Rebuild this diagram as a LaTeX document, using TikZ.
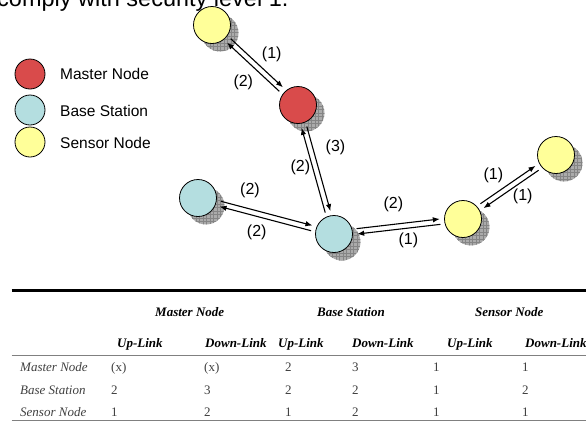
\documentclass[tikz,border=0pt]{standalone}
\usepackage{fontspec}
\setmainfont{Liberation Serif}
\newfontfamily\arialfont{Liberation Sans}
\usetikzlibrary{calc,arrows.meta,patterns.meta}
\definecolor{mred}{HTML}{D94B4B}
\definecolor{mblue}{HTML}{B4DEE0}
\definecolor{myellow}{HTML}{FFFF99}
\definecolor{tabgray}{HTML}{404040}
\definecolor{shadefill}{HTML}{ABABAB}
\definecolor{shadeline}{HTML}{858585}
\pgfdeclarepattern{
  name=shadowgrid,
  parameters={},
  bottom left={\pgfpoint{-0.5pt}{-0.5pt}},
  top right={\pgfpoint{3.5pt}{3.5pt}},
  tile size={\pgfpoint{3.5pt}{3.5pt}},
  tile transformation={},
  code={
    \pgfsetlinewidth{0.7pt}
    \pgfpathmoveto{\pgfpoint{0pt}{-0.5pt}}\pgfpathlineto{\pgfpoint{0pt}{3.5pt}}
    \pgfpathmoveto{\pgfpoint{-0.5pt}{0pt}}\pgfpathlineto{\pgfpoint{3.5pt}{0pt}}
    \pgfusepath{stroke}
  }
}
\newcommand\nodeshadow[1]{%
  \fill[shadefill] ($(#1)+(8,8)$) circle[radius=18.5];
  \fill[pattern=shadowgrid, pattern color=shadeline] ($(#1)+(8,8)$) circle[radius=18.5];}
\newcommand\linkto[2]{%
  \draw[arr] ($(#1)!23pt!(#2)!2.7pt!90:(#2)$) -- ($(#2)!23pt!(#1)!2.7pt!-90:(#1)$);}
\begin{document}
\begin{tikzpicture}[x=1pt,y=-1pt,
  netnode/.style={circle, draw=black, line width=0.8pt, minimum size=37pt, inner sep=0pt},
  master/.style={netnode, fill=mred},
  basest/.style={netnode, fill=mblue},
  sensor/.style={netnode, fill=myellow},
  legnode/.style={circle, draw=black, line width=0.8pt, minimum size=30pt, inner sep=0pt},
  legtxt/.style={font=\arialfont\fontsize{15.5}{18}\selectfont, anchor=west, inner sep=0pt},
  arr/.style={-{Latex[length=7pt,width=5.5pt]}, line width=1.1pt},
  lbl/.style={font=\arialfont\fontsize{16}{18}\selectfont, inner sep=0pt},
  tab/.style={font=\fontsize{13}{15}\selectfont\itshape, text=tabgray, inner sep=0pt, anchor=base west},
  tabval/.style={font=\fontsize{13}{15}\selectfont, text=tabgray, inner sep=0pt, anchor=base west},
  tabhead/.style={font=\fontsize{13}{15}\selectfont\bfseries\itshape, text=black, inner sep=0pt, anchor=base west}]
\useasboundingbox (0,0) rectangle (586,421);
\clip (0,0) rectangle (586,421);

% partial caption at the top
\node[font=\arialfont\fontsize{23.5}{26}\selectfont, anchor=base west, inner sep=0pt] (cap) at (-3,6.5) {comply with security level 1.};

% legend
\node[legnode, fill=mred] (lm) at (30,74) {};
\node[legnode, fill=mblue] (lb) at (30,110) {};
\node[legnode, fill=myellow] (ls) at (30,142) {};
\node[legtxt] (lmt) at (60,74) {Master Node};
\node[legtxt] (lbt) at (60,110.5) {Base Station};
\node[legtxt] (lst) at (60,142.5) {Sensor Node};

% network positions
\coordinate (y1) at (212,25);
\coordinate (r) at (298,105);
\coordinate (b1) at (198,198);
\coordinate (b2) at (334,234);
\coordinate (y2) at (463,219);
\coordinate (y3) at (556,155);
\foreach \c in {y1,r,b1,b2,y2,y3} {\nodeshadow{\c}}
\node[sensor] (Y1) at (y1) {};
\node[master] (R) at (r) {};
\node[basest] (B1) at (b1) {};
\node[basest] (B2) at (b2) {};
\node[sensor] (Y2) at (y2) {};
\node[sensor] (Y3) at (y3) {};

% connectors
\linkto{Y1}{R}  \linkto{R}{Y1}
\linkto{R}{B2}  \linkto{B2}{R}
\linkto{B1}{B2} \linkto{B2}{B1}
\linkto{B2}{Y2} \linkto{Y2}{B2}
\linkto{Y2}{Y3} \linkto{Y3}{Y2}

% labels
\node[lbl] (l1) at (271.7,54) {(1)};
\node[lbl] (l2) at (243.3,82.3) {(2)};
\node[lbl] (l3) at (335.5,147.5) {(3)};
\node[lbl] (l4) at (300.3,167.5) {(2)};
\node[lbl] (l5) at (250,190.7) {(2)};
\node[lbl] (l6) at (256.7,232.3) {(2)};
\node[lbl] (l7) at (393.3,204) {(2)};
\node[lbl] (l8) at (408.3,240.7) {(1)};
\node[lbl] (l9) at (493.3,175.7) {(1)};
\node[lbl] (l10) at (522.7,196.7) {(1)};

% table rules
\draw[line width=3pt] (11.5,290.5) -- (600,290.5);
\draw[line width=0.8pt, gray] (11.5,355) -- (600,355);
\draw[line width=0.8pt, gray] (11.5,420) -- (600,420);

% table headers
\node[tabhead] (h1) at (155,316.5) {Master Node};
\node[tabhead] (h2) at (317,316.5) {Base Station};
\node[tabhead] (h3) at (475,316.5) {Sensor Node};
\node[tabhead] (s1) at (117,347) {Up-Link};
\node[tabhead] (s2) at (205,347) {Down-Link};
\node[tabhead] (s3) at (278,347) {Up-Link};
\node[tabhead] (s4) at (352,347) {Down-Link};
\node[tabhead] (s5) at (447,347) {Up-Link};
\node[tabhead] (s6) at (525,347) {Down-Link};

% table rows
\node[tab] (r1) at (20,371.5) {Master Node};
\node[tab] (r2) at (20,394) {Base Station};
\node[tab] (r3) at (20,416.5) {Sensor Node};
\foreach \v [count=\i] in {(x),(x),2,3,1,1} {
  \pgfmathsetmacro\xx{{111,204,285,352,433,522}[\i-1]}
  \node[tabval] (a\i) at (\xx,371.5) {\v};}
\foreach \v [count=\i] in {2,3,2,2,1,2} {
  \pgfmathsetmacro\xx{{111,204,285,352,433,522}[\i-1]}
  \node[tabval] (b\i) at (\xx,394) {\v};}
\foreach \v [count=\i] in {1,2,1,2,1,1} {
  \pgfmathsetmacro\xx{{111,204,285,352,433,522}[\i-1]}
  \node[tabval] (c\i) at (\xx,416.5) {\v};}
\end{tikzpicture}
\end{document}
